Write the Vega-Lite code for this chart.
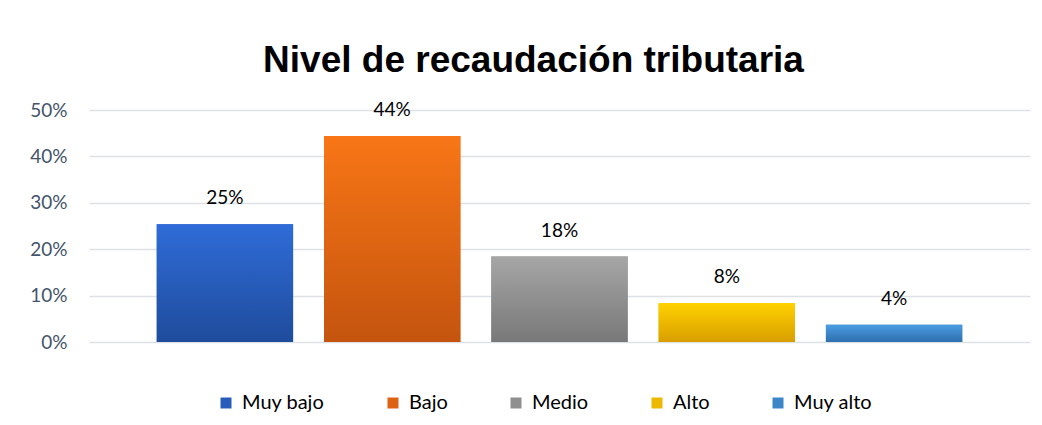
{
  "$schema": "https://vega.github.io/schema/vega-lite/v6.json",
  "autosize": {"type": "none"},
  "width": 941,
  "height": 232,
  "padding": {"left": 89, "top": 110, "right": 12, "bottom": 83},
  "background": "white",
  "config": {"view": {"stroke": null}},
  "title": {
    "text": "Nivel de recaudación tributaria",
    "font": "Liberation Sans",
    "fontSize": 37,
    "fontWeight": "bold",
    "color": "#000000",
    "anchor": "middle",
    "dx": -26,
    "baseline": "alphabetic",
    "offset": -8
  },
  "data": {
    "values": [
      {"nivel": "Muy bajo", "valor": 0.254},
      {"nivel": "Bajo", "valor": 0.444},
      {"nivel": "Medio", "valor": 0.184},
      {"nivel": "Alto", "valor": 0.084},
      {"nivel": "Muy alto", "valor": 0.037}
    ]
  },
  "encoding": {
    "x": {
      "field": "nivel",
      "type": "nominal",
      "sort": ["Muy bajo", "Bajo", "Medio", "Alto", "Muy alto"],
      "scale": {"paddingInner": 0.185, "paddingOuter": 0.405},
      "axis": null
    },
    "y": {
      "field": "valor",
      "type": "quantitative",
      "scale": {"domain": [0, 0.5]},
      "axis": {
        "title": null,
        "values": [0, 0.1, 0.2, 0.3, 0.4, 0.5],
        "format": ".0%",
        "domain": false,
        "ticks": false,
        "labelFont": "Lato",
        "labelFontSize": 19,
        "labelColor": "#44546a",
        "labelPadding": 22,
        "gridColor": "#dde1e6",
        "gridWidth": 1.5
      }
    }
  },
  "layer": [
    {
      "mark": {"type": "bar"},
      "encoding": {
        "color": {
          "field": "nivel",
          "type": "nominal",
          "sort": ["Muy bajo", "Bajo", "Medio", "Alto", "Muy alto"],
          "scale": {
            "domain": ["Muy bajo", "Bajo", "Medio", "Alto", "Muy alto"],
            "range": ["#285cba", "#dd6312", "#8f8f8f", "#ecb800", "#3c86c8"]
          },
          "legend": {
            "title": null,
            "orient": "none",
            "legendX": 127,
            "legendY": 283,
            "direction": "horizontal",
            "symbolType": "square",
            "symbolSize": 121,
            "symbolStrokeWidth": 0,
            "labelFont": "Lato",
            "labelFontSize": 20,
            "labelColor": "#000000",
            "labelOffset": 6,
            "columnPadding": 58
          }
        }
      }
    },
    {
      "mark": {"type": "bar"},
      "encoding": {
        "color": {
          "condition": [
            {"test": "datum.nivel === 'Muy bajo'", "value": {"gradient": "linear", "x1": 0, "y1": 0, "x2": 0, "y2": 1, "stops": [{"offset": 0, "color": "#2f6cd8"}, {"offset": 1, "color": "#1f4c9c"}]}},
            {"test": "datum.nivel === 'Bajo'", "value": {"gradient": "linear", "x1": 0, "y1": 0, "x2": 0, "y2": 1, "stops": [{"offset": 0, "color": "#f87616"}, {"offset": 1, "color": "#c4540e"}]}},
            {"test": "datum.nivel === 'Medio'", "value": {"gradient": "linear", "x1": 0, "y1": 0, "x2": 0, "y2": 1, "stops": [{"offset": 0, "color": "#a6a6a6"}, {"offset": 1, "color": "#787878"}]}},
            {"test": "datum.nivel === 'Alto'", "value": {"gradient": "linear", "x1": 0, "y1": 0, "x2": 0, "y2": 1, "stops": [{"offset": 0, "color": "#ffd200"}, {"offset": 1, "color": "#d99e00"}]}}
          ],
          "value": {"gradient": "linear", "x1": 0, "y1": 0, "x2": 0, "y2": 1, "stops": [{"offset": 0, "color": "#4a9de2"}, {"offset": 1, "color": "#2e6fae"}]}
        }
      }
    },
    {
      "mark": {"type": "text", "dy": -16, "font": "Lato", "fontSize": 19, "color": "#000000", "baseline": "bottom"},
      "encoding": {
        "text": {"field": "valor", "type": "quantitative", "format": ".0%"}
      }
    }
  ]
}
